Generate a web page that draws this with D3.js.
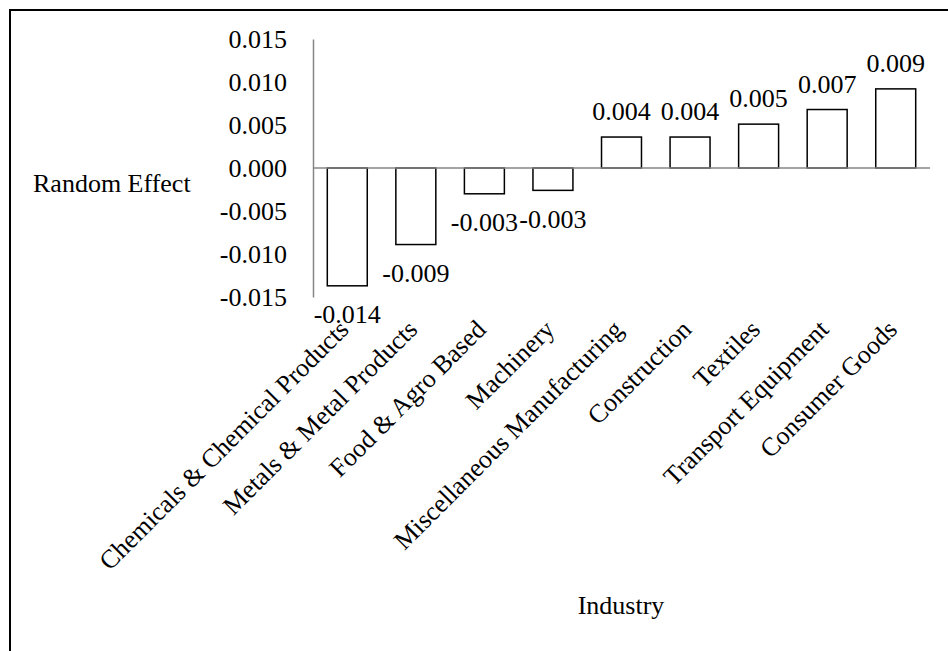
<!DOCTYPE html>
<html>
<head>
<meta charset="utf-8">
<script src="https://cdn.jsdelivr.net/npm/d3@7/dist/d3.min.js"></script>
<style>
  html, body { margin: 0; padding: 0; background: #fff; }
  svg { display: block; }
  text { font-family: "Times New Roman", "Liberation Serif", serif; fill: #000; }
</style>
</head>
<body>
<svg id="chart" width="948" height="651"></svg>
<script>
// Industry random effects
const industries = [
  "Chemicals & Chemical Products",
  "Metals & Metal Products",
  "Food & Agro Based",
  "Machinery",
  "Miscellaneous Manufacturing",
  "Construction",
  "Textiles",
  "Transport Equipment",
  "Consumer Goods"
];
const effects = [-0.0137, -0.0089, -0.0030, -0.0026, 0.0036, 0.0036, 0.0051, 0.0068, 0.0092];
const yTicks = [-0.015, -0.010, -0.005, 0.000, 0.005, 0.010, 0.015];

const W = 948, H = 651;
const plot = { left: 313, right: 930, top: 39, bottom: 297 };
const FONT = 26;
const SERIF = '"Times New Roman", "Liberation Serif", serif';

const svg = d3.select("#chart");

// outer frame (top and left edges visible)
svg.append("rect")
  .attr("x", 10).attr("y", 10)
  .attr("width", W + 20).attr("height", H + 20)
  .attr("fill", "none").attr("stroke", "#000").attr("stroke-width", 2);

const x = d3.scaleBand()
  .domain(industries)
  .range([plot.left, plot.right])
  .paddingInner(0.417)
  .paddingOuter(0.2085);

const y = d3.scaleLinear()
  .domain([-0.015, 0.015])
  .range([plot.bottom, plot.top]);

// three decimals, plain hyphen for negatives
const fmt = v => d3.format(".3f")(v).replace("\u2212", "-");

// y axis: labels only, plus vertical gray line
const yAxis = d3.axisLeft(y).tickValues(yTicks).tickSize(0).tickPadding(26).tickFormat(fmt);
const gy = svg.append("g")
  .attr("transform", `translate(${plot.left},0)`)
  .call(yAxis)
  .attr("font-family", SERIF)
  .attr("font-size", FONT);
gy.select(".domain").attr("stroke", "#868686").attr("stroke-width", 1.5);
gy.selectAll("text")
  .attr("fill", "#000")
  .attr("dy", "0.33em");

// bars
svg.append("g").selectAll("rect")
  .data(effects)
  .join("rect")
  .attr("x", (d, i) => x(industries[i]))
  .attr("width", x.bandwidth())
  .attr("y", d => Math.min(y(d), y(0)))
  .attr("height", d => Math.abs(y(d) - y(0)))
  .attr("fill", "#fff")
  .attr("stroke", "#000")
  .attr("stroke-width", 1.5);

// zero line
svg.append("line")
  .attr("x1", plot.left).attr("x2", plot.right)
  .attr("y1", y(0)).attr("y2", y(0))
  .attr("stroke", "#868686").attr("stroke-width", 1.5);

// value labels
svg.append("g")
  .attr("font-family", SERIF)
  .attr("font-size", FONT)
  .selectAll("text")
  .data(effects)
  .join("text")
  .attr("x", (d, i) => x(industries[i]) + x.bandwidth() / 2)
  .attr("y", d => d >= 0 ? y(d) - 17 : y(d) + 37.5)
  .attr("text-anchor", "middle")
  .text(d => fmt(d));

// category labels, rotated 45°
svg.append("g")
  .attr("font-family", SERIF)
  .attr("font-size", FONT)
  .selectAll("text")
  .data(industries)
  .join("text")
  .attr("text-anchor", "end")
  .attr("transform", d => `translate(${x(d) + x.bandwidth() / 2 + 3},${plot.bottom + 34}) rotate(-45)`)
  .text(d => d);

// axis titles
svg.append("text")
  .attr("x", 33).attr("y", 191.5)
  .attr("font-family", SERIF)
  .attr("font-size", FONT)
  .text("Random Effect");

svg.append("text")
  .attr("x", 621).attr("y", 614)
  .attr("text-anchor", "middle")
  .attr("font-family", SERIF)
  .attr("font-size", FONT)
  .text("Industry");
</script>
</body>
</html>
